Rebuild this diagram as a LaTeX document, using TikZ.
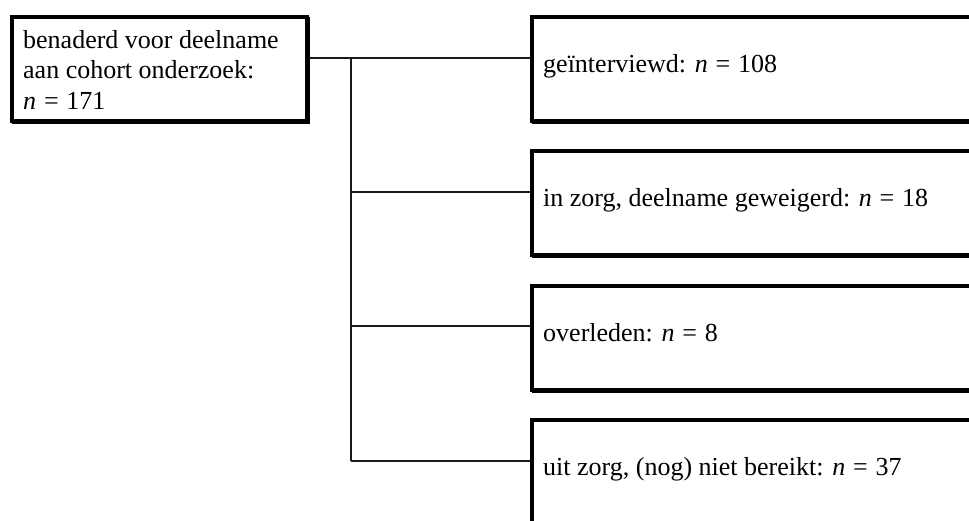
\documentclass[tikz,border=0pt]{standalone}
\usepackage{fontspec}
\setmainfont{Liberation Serif}
\usetikzlibrary{shadows}
\begin{document}
\begin{tikzpicture}[x=1pt,y=-1pt,
  box/.style={draw=black, line width=3.6pt, fill=white, inner sep=0pt, anchor=north west,
    copy shadow={shadow xshift=1.6pt, shadow yshift=-1.6pt}},
  txt/.style={inner sep=0pt, font=\fontsize{26}{30.5}\selectfont, align=left},
  conn/.style={draw=black!90, line width=1.4pt}]
\useasboundingbox (0,0) rectangle (969,520);
\clip (0,0) rectangle (969,520);
% boxes
\node[box, minimum width=295pt, minimum height=104pt] (lbox) at (10,15) {};
\node[box, minimum width=470pt, minimum height=104pt] (b1) at (530,15) {};
\node[box, minimum width=470pt, minimum height=104pt] (b2) at (530,149) {};
\node[box, minimum width=470pt, minimum height=104pt] (b3) at (530,284) {};
\node[box, minimum width=470pt, minimum height=150pt] (b4) at (530,418) {};
% texts
\node[txt, anchor=north west] (t0) at (23,30.2) {benaderd voor deelname\\aan cohort onderzoek:\\\textit{n}\hspace{0.3em}=\hspace{0.3em}171};
\node[txt, anchor=base west] (t1) at (543,72) {geïnterviewd: \textit{n}\hspace{0.3em}=\hspace{0.3em}108};
\node[txt, anchor=base west] (t2) at (543,206) {in zorg, deelname geweigerd: \textit{n}\hspace{0.3em}=\hspace{0.3em}18};
\node[txt, anchor=base west] (t3) at (543,341) {overleden: \textit{n}\hspace{0.3em}=\hspace{0.3em}8};
\node[txt, anchor=base west] (t4) at (543,475) {uit zorg, (nog) niet bereikt: \textit{n}\hspace{0.3em}=\hspace{0.3em}37};
% junctions
\coordinate (j0) at (351,58);
\coordinate (j1) at (351,192);
\coordinate (j2) at (351,326);
\coordinate (j3) at (351,461);
% connectors
\draw[conn] (lbox.east |- j0) -- (b1.west |- j0);
\draw[conn] (j0) -- (j3);
\draw[conn] (j1) -- (b2.west |- j1);
\draw[conn] (j2) -- (b3.west |- j2);
\draw[conn] (j3) -- (b4.west |- j3);
\end{tikzpicture}
\end{document}
